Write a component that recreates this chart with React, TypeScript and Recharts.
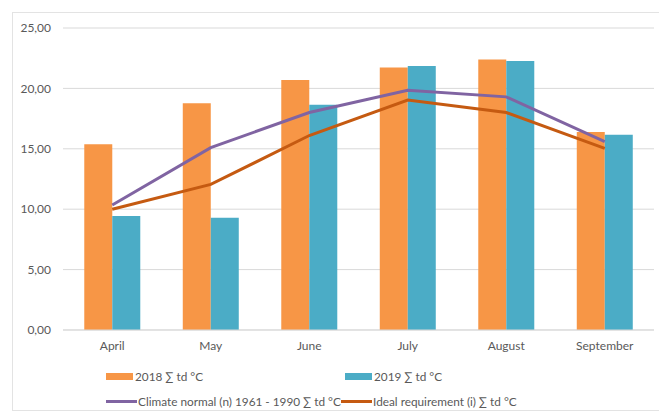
import React from 'react';
import { ComposedChart, Bar, Line, XAxis, YAxis, CartesianGrid } from 'recharts';

const months = ['April', 'May', 'June', 'July', 'August', 'September'];
const sum2018 = [15.37, 18.77, 20.7, 21.72, 22.4, 16.39];
const sum2019 = [9.44, 9.3, 18.65, 21.85, 22.27, 16.17];
const climateNormal = [10.35, 15.1, 18.0, 19.85, 19.3, 15.6];
const idealRequirement = [10.0, 12.05, 16.1, 19.04, 18.0, 15.04];
const yTicks = [0, 5, 10, 15, 20, 25];

const seriesNames = {
  s2018: '2018 ∑ td °C',
  s2019: '2019 ∑ td °C',
  normal: 'Climate normal (n) 1961 - 1990 ∑ td °C',
  ideal: 'Ideal requirement (i) ∑ td °C',
};

const COLORS = {
  s2018: '#F79646',
  s2019: '#4BACC6',
  normal: '#8064A2',
  ideal: '#C55A11',
};

const data = months.map((m, i) => ({
  month: m,
  s2018: sum2018[i],
  s2019: sum2019[i],
  normal: climateNormal[i],
  ideal: idealRequirement[i],
}));

const FONT = 'Lato, "Open Sans", sans-serif';
const TEXT = '#595959';

const fmt = (v: number) => v.toFixed(2).replace('.', ',');

function LegendItem({ kind, color, label, left, top }: any) {
  return (
    <div style={{ position: 'absolute', left, top, display: 'flex', alignItems: 'center', height: 14, whiteSpace: 'nowrap' }}>
      {kind === 'bar' ? (
        <div style={{ width: 27, height: 7, background: color, marginRight: 2 }} />
      ) : (
        <div style={{ width: 31, height: 3, background: color, marginRight: 1 }} />
      )}
      <span style={{ fontFamily: FONT, fontSize: 11.8, color: TEXT }}>{label}</span>
    </div>
  );
}

export default function App() {
  return (
    <div style={{ position: 'absolute', left: 0, top: 0, width: 659, height: 412, background: '#fff', overflow: 'hidden' }}>
      <div style={{ position: 'absolute', left: 12, top: 12, width: 660, height: 397, border: '1px solid #E3E3E3' }} />
      <div style={{ position: 'absolute', left: 0, top: 0 }}>
        <ComposedChart
          width={659}
          height={412}
          data={data}
          margin={{ top: 28, right: 5, left: 0, bottom: 52 }}
          barCategoryGap="21.6%"
          barGap={0}
        >
          <CartesianGrid vertical={false} stroke="#D9D9D9" strokeWidth={1} />
          <XAxis
            dataKey="month"
            height={30}
            axisLine={{ stroke: '#D9D9D9' }}
            tickLine={false}
            tickSize={0}
            tickMargin={11}
            tick={{ fontFamily: FONT, fontSize: 12, fill: TEXT }}
          />
          <YAxis
            width={63}
            domain={[0, 25]}
            ticks={yTicks}
            tickFormatter={fmt}
            axisLine={false}
            tickLine={false}
            tickSize={0}
            tickMargin={12}
            tick={{ fontFamily: FONT, fontSize: 12, fill: TEXT }}
          />
          <Bar dataKey="s2018" name={seriesNames.s2018} fill={COLORS.s2018} isAnimationActive={false} />
          <Bar dataKey="s2019" name={seriesNames.s2019} fill={COLORS.s2019} isAnimationActive={false} />
          <Line type="linear" dataKey="normal" name={seriesNames.normal} stroke={COLORS.normal} strokeWidth={3} dot={false} isAnimationActive={false} />
          <Line type="linear" dataKey="ideal" name={seriesNames.ideal} stroke={COLORS.ideal} strokeWidth={3} dot={false} isAnimationActive={false} />
        </ComposedChart>
      </div>
      <LegendItem kind="bar" color={COLORS.s2018} label={seriesNames.s2018} left={106} top={369} />
      <LegendItem kind="bar" color={COLORS.s2019} label={seriesNames.s2019} left={345} top={369} />
      <LegendItem kind="line" color={COLORS.normal} label={seriesNames.normal} left={106} top={394} />
      <LegendItem kind="line" color={COLORS.ideal} label={seriesNames.ideal} left={341} top={394} />
    </div>
  );
}
